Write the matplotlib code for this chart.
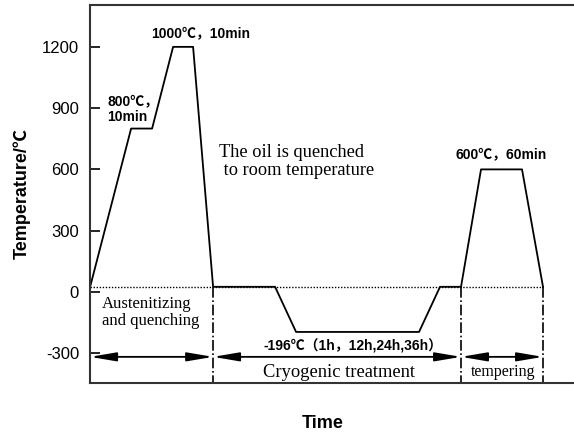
import matplotlib
matplotlib.use('Agg')
import matplotlib.pyplot as plt

# Heat-treatment schedule (time in arbitrary units, temperature in °C)
time_pts = [0, 41, 62, 83, 103, 123, 185, 206, 329, 350, 371, 391, 432, 453]
temp_pts = [25, 800, 800, 1200, 1200, 25, 25, -196, -196, 25, 25, 600, 600, 25]

room_temp = 25
stage_bounds = [0, 123, 371, 453]
stage_names = ['Austenitizing\nand quenching', 'Cryogenic treatment', 'tempering']
arrow_y = -318

yticks = [-300, 0, 300, 600, 900, 1200]

sans = ['Liberation Sans', 'Noto Sans CJK SC', 'DejaVu Sans']
serif = ['Liberation Serif', 'DejaVu Serif']

fig = plt.figure(figsize=(5.74, 4.34), dpi=100)
ax = fig.add_axes([0.157, 0.118, 0.843, 0.870])

ax.plot(time_pts, temp_pts, color='black', lw=1.3)

# room temperature reference
ax.plot([0, stage_bounds[-1]], [room_temp, room_temp], color='black', lw=1.0, ls=(0, (1, 1.2)))

# stage separators
for xb in stage_bounds[1:]:
    ax.plot([xb, xb], [room_temp, -460], color='black', lw=1.2, ls='-.')

# stage arrows
for x0, x1 in zip(stage_bounds[:-1], stage_bounds[1:]):
    ax.annotate('', xy=(x1, arrow_y), xytext=(x0, arrow_y),
                arrowprops=dict(arrowstyle='<|-|>,head_length=1.3,head_width=0.22',
                                color='black', lw=1.3, shrinkA=0, shrinkB=0,
                                mutation_scale=12))

ax.text(12, -100, stage_names[0], family=serif, fontsize=12, va='center',
        linespacing=1.05)
ax.text(249, -395, stage_names[1], family=serif, fontsize=13.3, ha='center', va='center')
ax.text(413, -390, stage_names[2], family=serif, fontsize=11.5, ha='center', va='center')

# annotations
ax.text(111, 1267, '1000℃，10min', family=sans, fontweight='bold', fontsize=10,
        ha='center', va='center')
ax.text(17, 897, '800℃，\n10min', family=sans, fontweight='bold', fontsize=10,
        va='center', linespacing=1.15)
ax.text(411, 674, '600℃，60min', family=sans, fontweight='bold', fontsize=10,
        ha='center', va='center')
ax.text(173, -265, '-196℃（1h，12h,24h,36h）', family=sans, fontweight='bold',
        fontsize=10, va='center')
ax.text(129, 640, 'The oil is quenched\n to room temperature', family=serif,
        fontsize=13.2, va='center', linespacing=1.1)

ax.set_xlim(0, 484)
ax.set_ylim(-445, 1404)
ax.set_xticks([])
ax.set_yticks(yticks)
ax.set_yticklabels([str(v) for v in yticks], family=sans, fontsize=12)
ax.tick_params(axis='y', direction='in', length=7, width=1.2, pad=8)

for side in ['left', 'top', 'bottom']:
    ax.spines[side].set_linewidth(1.5)
    ax.spines[side].set_color('#333333')
ax.spines['right'].set_visible(False)

ax.set_ylabel('Temperature/℃', family=sans, fontweight='bold', fontsize=13, labelpad=8)
fig.text(0.563, 0.025, 'Time', family=sans, fontweight='bold', fontsize=13,
         ha='center', va='center')

plt.savefig('out.png', dpi=100)
